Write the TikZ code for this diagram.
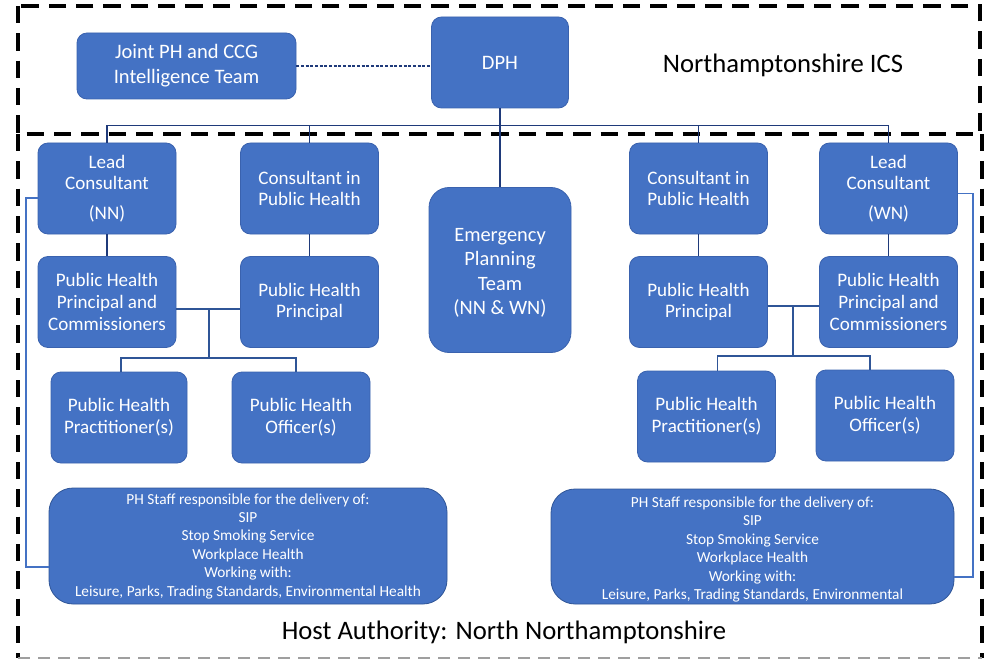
\documentclass[tikz,border=0pt]{standalone}
\usepackage{fontspec}
\setmainfont{Carlito}
\definecolor{boxblue}{HTML}{4472C4}
\definecolor{boxedge}{HTML}{3A62AE}
\definecolor{navy}{HTML}{1F3A7A}
\definecolor{linkblue}{HTML}{2F5597}
\definecolor{railblue}{HTML}{4472C4}
\begin{document}
\begin{tikzpicture}[x=0.75pt,y=-0.75pt,
  box/.style={draw=boxedge, line width=0.6pt, fill=boxblue, text=white,
    rounded corners=7.5pt, align=center, inner sep=0pt,
    font=\fontsize{14.3}{16.3}\selectfont},
  rowbox/.style={box, minimum width=103.5pt, minimum height=68.25pt},
  topbox/.style={box, font=\fontsize{15.4}{18.7}\selectfont},
  staffbox/.style={box, rounded corners=18pt, draw=linkblue,
    font=\fontsize{11.5}{13.8}\selectfont},
  areaframe/.style={draw=black, line width=2.3pt, dash pattern=on 13pt off 7.5pt},
  lowframe/.style={line width=1pt, draw=gray!75, dash pattern=on 9pt off 6pt},
  bus/.style={draw=navy, line width=1.1pt},
  link/.style={draw=linkblue, line width=0.8pt},
  rail/.style={draw=railblue, line width=0.8pt},
  dotlink/.style={draw=navy, line width=0.9pt, dash pattern=on 2.2pt off 1.3pt},
  area/.style={font=\fontsize{20}{24}\selectfont, text=black}
]
\useasboundingbox (0,0) rectangle (986,660);

% boundary frames
\draw[areaframe] (18,6) rectangle (980,134);
\draw[areaframe] (18,134) -- (18,658);
\draw[areaframe] (982,134) -- (982,658);
\draw[lowframe] (18,658) -- (982,658);

% area labels
\node[area] (ics) at (783,65) {Northamptonshire ICS};
\node[area] (host) at (504,632) {Host Authority: North Northamptonshire};

% top tier
\node[topbox, minimum width=164.25pt, minimum height=49.5pt] (joint) at (186.5,66)
  {Joint PH and CCG\\Intelligence Team};
\node[topbox, minimum width=102.75pt, minimum height=68.25pt] (dph) at (500,62.5) {DPH};
\node[box, rounded corners=15pt, minimum width=106.5pt, minimum height=123.75pt,
  font=\fontsize{15.3}{18.4}\selectfont] (ept) at (500,270)
  {\raisebox{-2.2pt}[\height][\depth]{\parbox{100pt}{\centering Emergency\\Planning\\Team\\(NN \& WN)}}};

% North Northamptonshire branch
\node[rowbox] (lnn) at (107,188.5) {Lead\\Consultant\\[6pt](NN)};
\node[rowbox] (cnn) at (309.5,188.5) {Consultant in\\Public Health};
\node[rowbox] (pcnn) at (107,302) {Public Health\\Principal and\\Commissioners};
\node[rowbox] (pnn) at (309.5,302) {Public Health\\Principal};
\node[rowbox, minimum width=102pt] (prn) at (119,417.5) {Public Health\\Practitioner(s)};
\node[rowbox] (ofn) at (301,417.5) {Public Health\\Officer(s)};
\node[staffbox, minimum width=298.5pt, minimum height=87pt] (stn) at (248,546)
  {PH Staff responsible for the delivery of:\\SIP\\Stop Smoking Service\\Workplace Health\\Working with:\\Leisure, Parks, Trading Standards, Environmental Health};

% West Northamptonshire branch
\node[rowbox] (cwn) at (698.5,188.5) {Consultant in\\Public Health};
\node[rowbox] (lwn) at (888.5,188.5) {Lead\\Consultant\\[6pt](WN)};
\node[rowbox] (pwn) at (698.5,302) {Public Health\\Principal};
\node[rowbox] (pcwn) at (888.5,302) {Public Health\\Principal and\\Commissioners};
\node[rowbox] (prw) at (706.5,416.5) {Public Health\\Practitioner(s)};
\node[rowbox] (ofw) at (885,415.5) {Public Health\\Officer(s)};
\node[staffbox, minimum width=302.25pt, minimum height=86.25pt] (stw) at (752.5,546.5)
  {\raisebox{-2.3pt}[\height][\depth]{\parbox{290pt}{\centering PH Staff responsible for the delivery of:\\SIP\\Stop Smoking Service\\Workplace Health\\Working with:\\Leisure, Parks, Trading Standards, Environmental}}};

% intelligence link
\draw[dotlink] (joint.east) -- (dph.west |- joint.east);

% reporting bus from DPH
\coordinate (bus) at (500,125.5);
\draw[bus] (dph.south) -- (ept.north);
\draw[bus] (lnn.north) |- (bus) -| (lwn.north);
\draw[bus] (cnn.north) -- (cnn.north |- bus);
\draw[bus] (cwn.north) -- (cwn.north |- bus);

% consultant to principal links
\draw[bus] (lnn) -- (pcnn);
\draw[bus] (cnn) -- (pnn);
\draw[bus] (cwn) -- (pwn);
\draw[bus] (lwn) -- (pcwn);

% North team links
\coordinate (hubn) at (209,309);
\coordinate (splitn) at (209,358);
\draw[link] (pcnn.east |- hubn) -- (pnn.west |- hubn);
\draw[link] (hubn) -- (splitn);
\draw[link] ([xshift=1.5pt]prn.north) |- (splitn) -| ([xshift=-3.75pt]ofn.north);

% West team links
\coordinate (hubw) at (793,306);
\coordinate (splitw) at (793,356);
\draw[link] (pwn.east |- hubw) -- (pcwn.west |- hubw);
\draw[link] (hubw) -- (splitw);
\draw[link] ([xshift=7.9pt]prw.north) |- (splitw) -| ([xshift=-11.25pt]ofw.north);

% lead consultant to delivery staff
\coordinate (raill) at (26,567);
\coordinate (railr) at (973,577);
\draw[rail] ([yshift=-7.1pt]lnn.west) -| (raill) -- (stn.west |- raill);
\draw[rail] ([yshift=-3.4pt]lwn.east) -| (railr) -- (stw.east |- railr);
\end{tikzpicture}
\end{document}
